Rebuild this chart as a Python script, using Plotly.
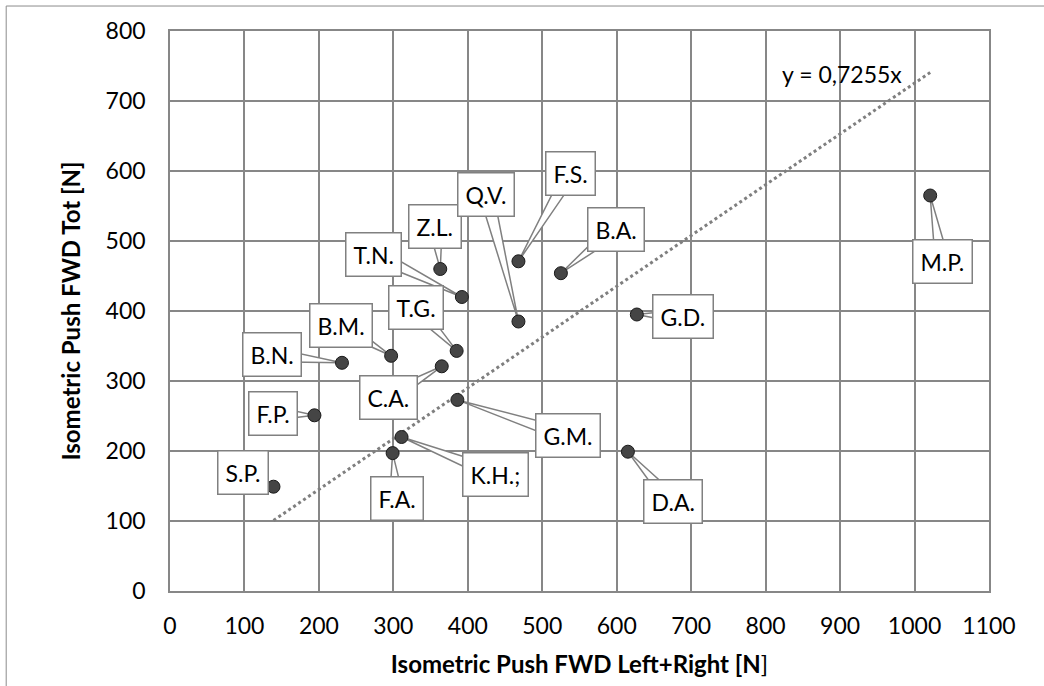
import math
import plotly.graph_objects as go

# Data
names = ["S.P.", "F.P.", "B.N.", "B.M.", "F.A.", "K.H.;", "C.A.", "Z.L.", "T.G.", "G.M.",
         "T.N.", "F.S.", "Q.V.", "B.A.", "D.A.", "G.D.", "M.P."]
x_vals = [139, 194, 231, 297, 299, 311, 365, 363, 385, 386, 392, 468, 468, 525, 615, 627, 1021]
y_vals = [149, 251, 326, 336, 197, 220, 321, 460, 343, 273, 420, 471, 385, 454, 199, 395, 565]
slope = 0.7255
trend_label = "y = 0,7255x"

# label offsets (pixels, style)
offsets = {
    "S.P.": (-30, -14), "F.P.": (-41, -2), "B.N.": (-70, -8), "B.M.": (-50, -30),
    "F.A.": (4, 45), "K.H.;": (94, 37), "C.A.": (-53, 31), "Z.L.": (-5, -43),
    "T.G.": (-41, -43), "G.M.": (111, 36), "T.N.": (-88, -43), "F.S.": (52, -88),
    "Q.V.": (-32, -127), "B.A.": (55, -44), "D.A.": (45, 50), "G.D.": (46, 2),
    "M.P.": (12, 66),
}

FONT = "Lato, Open Sans, sans-serif"
GRID = "#878787"
W, H = 1044, 686
ML, MR, MT, MB = 170, 55, 31, 95
XR, YR = (0, 1100), (0, 800)
sx = (W - ML - MR) / (XR[1] - XR[0])   # px per x unit
sy = (H - MT - MB) / (YR[1] - YR[0])   # px per y unit

fig = go.Figure()

xmin, xmax = min(x_vals), max(x_vals)
fig.add_trace(go.Scatter(
    x=[xmin, xmax], y=[slope * xmin, slope * xmax], mode="lines",
    line=dict(color="#7f7f7f", width=3, dash="dot"), hoverinfo="skip", showlegend=False))

fig.add_trace(go.Scatter(
    x=x_vals, y=y_vals, mode="markers",
    marker=dict(size=13, color="#454545", line=dict(color="#1a1a1a", width=1)),
    showlegend=False))

half_base = 7  # px
for n, xv, yv in zip(names, x_vals, y_vals):
    ax, ay = offsets[n]
    # wedge (callout pointer) from box centre to point
    L = math.hypot(ax, ay)
    nx, ny = -ay / L, ax / L
    p1 = (ax + nx * half_base, ay + ny * half_base)
    p2 = (ax - nx * half_base, ay - ny * half_base)
    pts = [(xv, yv)] + [(xv + px / sx, yv - py / sy) for px, py in (p1, p2)]
    path = "M {} {} L {} {} L {} {} Z".format(*[c for p in pts for c in p])
    fig.add_shape(type="path", path=path, xref="x", yref="y", layer="between",
                  fillcolor="white", line=dict(color="#808080", width=1.5))
    fig.add_annotation(
        x=xv, y=yv, text=n, showarrow=True, ax=ax, ay=ay,
        arrowhead=0, arrowwidth=1, arrowcolor="rgba(0,0,0,0)",
        bgcolor="white", bordercolor="#808080", borderwidth=1.5, borderpad=7,
        font=dict(family=FONT, size=23, color="black"))

fig.add_annotation(x=903, y=739, text=trend_label, showarrow=False,
                   font=dict(family=FONT, size=23, color="black"))

# outer chart border (left/top)
fig.add_shape(type="line", xref="paper", yref="paper", x0=-0.2, x1=-0.2, y0=-0.2, y1=1.0446,
              line=dict(color="#8c8c8c", width=1))
fig.add_shape(type="line", xref="paper", yref="paper", x0=-0.2, x1=1.1, y0=1.0446, y1=1.0446,
              line=dict(color="#8c8c8c", width=1))

fig.update_xaxes(
    range=list(XR), dtick=100, tick0=0, showgrid=True, gridcolor=GRID, gridwidth=1.5,
    showline=True, linecolor=GRID, linewidth=1.5, mirror=True, zeroline=False,
    ticks="", ticklabelstandoff=14,
    tickfont=dict(family=FONT, size=23, color="black"),
    title=dict(text="<b>Isometric Push FWD Left+Right [N</b>]",
               font=dict(family=FONT, size=24, color="black"), standoff=18))
fig.update_yaxes(
    range=list(YR), dtick=100, tick0=0, showgrid=True, gridcolor=GRID, gridwidth=1.5,
    showline=True, linecolor=GRID, linewidth=1.5, mirror=True, zeroline=False,
    ticks="", ticklabelstandoff=18,
    tickfont=dict(family=FONT, size=23, color="black"),
    title=dict(text="<b>Isometric Push FWD Tot [N]</b>",
               font=dict(family=FONT, size=24, color="black"), standoff=18))

fig.update_layout(
    width=W, height=H,
    margin=dict(l=ML, r=MR, t=MT, b=MB),
    plot_bgcolor="white", paper_bgcolor="white",
)

fig.write_html("out.html", post_script="document.body.style.margin='0';",
               config={"displayModeBar": False})
